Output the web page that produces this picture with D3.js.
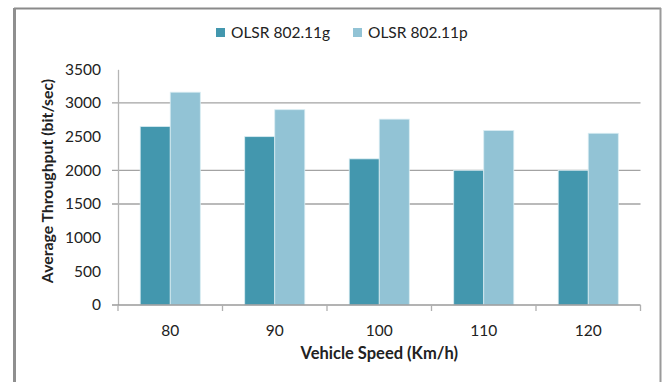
<!DOCTYPE html>
<html>
<head>
<meta charset="utf-8">
<script src="https://cdnjs.cloudflare.com/ajax/libs/d3/7.8.5/d3.min.js"></script>
<style>
  html, body { margin: 0; padding: 0; background: #fff; }
  svg { display: block; }
  text { font-family: Lato, "Open Sans", sans-serif; fill: #222; }
</style>
</head>
<body>
<svg id="chart" width="665" height="382"></svg>
<script>
// Average throughput per vehicle speed, for two protocol variants
const speeds = ["80", "90", "100", "110", "120"];
const seriesNames = ["OLSR 802.11g", "OLSR 802.11p"];
const olsr80211g = [2650, 2500, 2170, 2000, 2000];
const olsr80211p = [3160, 2900, 2760, 2590, 2550];
const yTicks = [0, 500, 1000, 1500, 2000, 2500, 3000, 3500];
const gridValues = [1500, 2000, 3000];
const colors = ["#4397ae", "#92c3d5"];

const svg = d3.select("#chart");
const W = 665, H = 382;
const plot = { left: 118, right: 640.5, top: 69.3, bottom: 305 };

// Outer frame (top, left and right edges)
const frame = svg.append("g");
frame.append("line").attr("x1", 14).attr("x2", 661).attr("y1", 8.5).attr("y2", 8.5)
  .attr("stroke", "#8a8a8a").attr("stroke-width", 2);
frame.append("line").attr("x1", 14.5).attr("x2", 14.5).attr("y1", 8).attr("y2", H)
  .attr("stroke", "#8f8f8f").attr("stroke-width", 3);
frame.append("line").attr("x1", 660.5).attr("x2", 660.5).attr("y1", 8).attr("y2", H)
  .attr("stroke", "#9a9a9a").attr("stroke-width", 2);

const x0 = d3.scaleBand().domain(speeds).range([plot.left, plot.right]).paddingInner(0.425).paddingOuter(0.2125);
const x1 = d3.scaleBand().domain(seriesNames).range([0, x0.bandwidth()]);
const y = d3.scaleLinear().domain([0, 3500]).range([plot.bottom, plot.top]);

// Horizontal gridlines
svg.append("g").selectAll("line").data(gridValues).join("line")
  .attr("x1", plot.left - 6).attr("x2", plot.right)
  .attr("y1", d => y(d)).attr("y2", d => y(d))
  .attr("stroke", "#a3a3a3").attr("stroke-width", 1.3);

// Bars
const rows = speeds.map((s, i) => ({ speed: s, values: [olsr80211g[i], olsr80211p[i]] }));
svg.append("g").selectAll("g").data(rows).join("g")
  .attr("transform", d => `translate(${x0(d.speed)},0)`)
  .selectAll("rect").data(d => d.values.map((v, j) => ({ name: seriesNames[j], v, j })))
  .join("rect")
  .attr("x", d => x1(d.name)).attr("width", x1.bandwidth())
  .attr("y", d => y(d.v)).attr("height", d => y(0) - y(d.v))
  .attr("fill", d => colors[d.j])
  .attr("stroke", "#d8ecf2").attr("stroke-width", 0.8);

// Y axis
const yAxis = svg.append("g").attr("transform", `translate(${plot.left},0)`)
  .call(d3.axisLeft(y).tickValues(yTicks).tickFormat(d3.format("d")).tickSize(0).tickPadding(17));
yAxis.select(".domain").attr("stroke", "#b5b5b5").attr("stroke-width", 1.3);
yAxis.selectAll("text").attr("font-size", 15.5).attr("fill", "#222")
  .style("font-family", "Lato, sans-serif");

// X axis with ticks at category boundaries
const xAxisG = svg.append("g").attr("transform", `translate(0,${plot.bottom})`);
xAxisG.append("line").attr("x1", plot.left - 6).attr("x2", plot.right)
  .attr("stroke", "#9a9a9a").attr("stroke-width", 1.3);
const bounds = d3.range(speeds.length + 1).map(i => plot.left + i * (plot.right - plot.left) / speeds.length);
xAxisG.selectAll(".tk").data(bounds).join("line").attr("class", "tk")
  .attr("x1", d => d).attr("x2", d => d).attr("y1", 0).attr("y2", 6)
  .attr("stroke", "#b0b0b0").attr("stroke-width", 1.3);
xAxisG.selectAll(".lbl").data(speeds).join("text").attr("class", "lbl")
  .attr("x", d => x0(d) + x0.bandwidth() / 2).attr("y", 31)
  .attr("text-anchor", "middle").attr("font-size", 15.5).text(d => d);

// Axis titles
svg.append("text").attr("x", (plot.left + plot.right) / 2).attr("y", 359)
  .attr("text-anchor", "middle").attr("font-size", 16.5).attr("font-weight", "bold")
  .text("Vehicle Speed (Km/h)");
svg.append("text").attr("transform", "translate(53,181) rotate(-90)")
  .attr("text-anchor", "middle").attr("font-size", 15.8).attr("font-weight", "bold")
  .text("Average Throughput (bit/sec)");

// Legend
const legend = svg.append("g").selectAll("g").data(seriesNames).join("g")
  .attr("transform", (d, i) => `translate(${[216, 353][i]},32)`);
legend.append("rect").attr("x", 0).attr("y", -4).attr("width", 9).attr("height", 9)
  .attr("fill", (d, i) => colors[i]);
legend.append("text").attr("x", 15).attr("y", 6).attr("font-size", 15.5).attr("fill", "#333").text(d => d);
</script>
</body>
</html>
